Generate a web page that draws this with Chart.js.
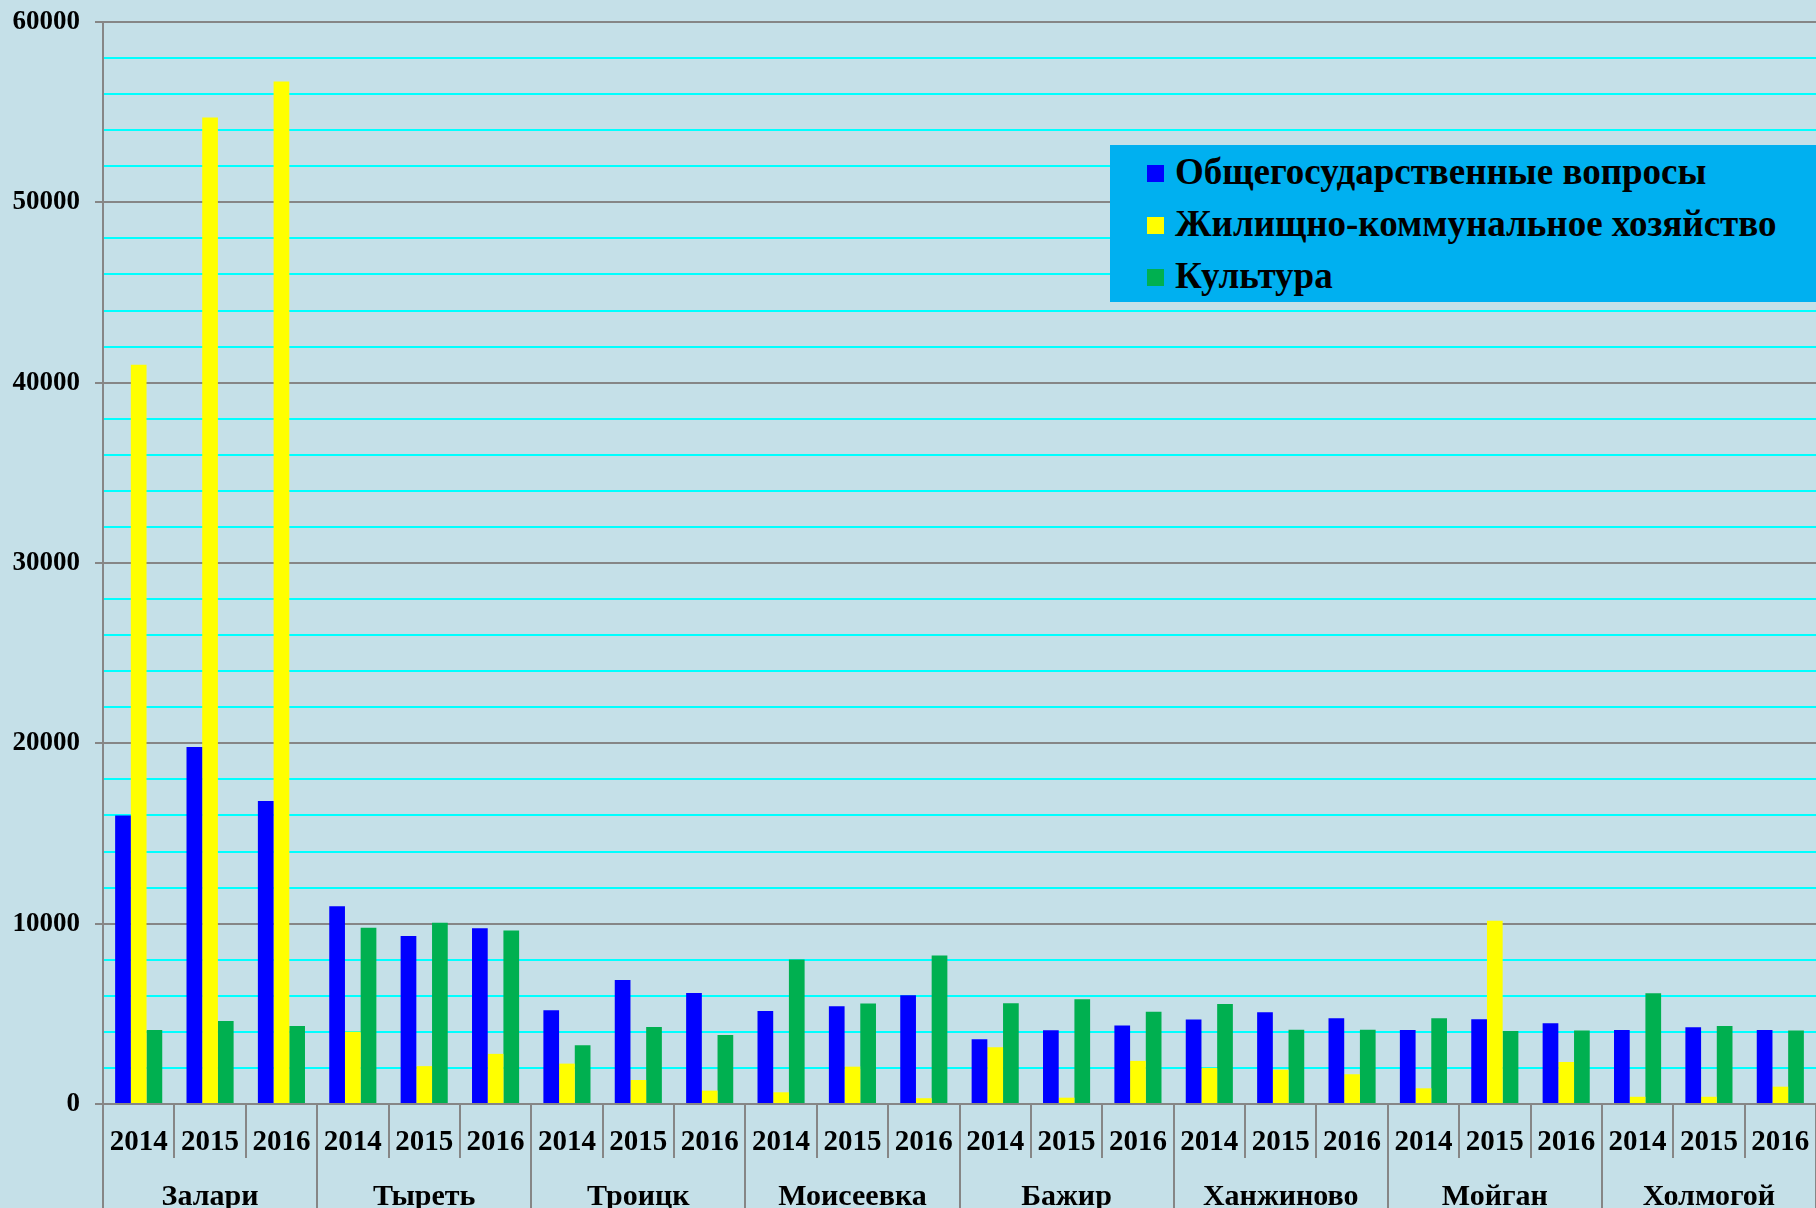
<!DOCTYPE html>
<html>
<head>
	<title>Расходы поселений 2014-2016</title>
	<script src="https://cdn.jsdelivr.net/npm/chart.js@4.4.0/dist/chart.umd.min.js"></script>
	<style>
		html, body { margin: 0; padding: 0; background: #c5e0e8; overflow: hidden; }
		#wrap { position: relative; width: 1816px; height: 1216px; }
		#legend {
			position: absolute; left: 1110px; top: 145px; width: 706px; height: 157px;
			background: #00b0f0; box-sizing: border-box; padding: 1px 0 0 37px;
			font-family: 'Liberation Serif', 'Times New Roman', serif; font-weight: bold; font-size: 37px;
		}
		#legend div { height: 52px; line-height: 52px; white-space: nowrap; }
		#legend span { display: inline-block; width: 17px; height: 17px; margin-right: 11px; vertical-align: 2px; }
	</style>
</head>
<body>
	<div id="wrap">
		<canvas id="canvas"></canvas>
		<div id="legend"></div>
	</div>
	<script type="text/javascript">
		var villages = ['Залари', 'Тыреть', 'Троицк', 'Моисеевка', 'Бажир', 'Ханжиново', 'Мойган', 'Холмогой'];
		var years = ['2014', '2015', '2016'];

		var seriesNames = ['Общегосударственные вопросы', 'Жилищно-коммунальное хозяйство', 'Культура'];
		var seriesColors = ['#0000ff', '#ffff00', '#00b050'];

		// values per village, 2014..2016
		var general = [16000, 19800, 16800,  10970, 9320, 9750,  5200, 6880, 6160,  5160, 5420, 6030,
			3590, 4090, 4350,  4680, 5090, 4760,  4100, 4700, 4480,  4100, 4260, 4100];
		var housing = [41000, 54700, 56700,  4000, 2100, 2780,  2240, 1330, 740,  650, 2070, 320,
			3150, 350, 2390,  2000, 1900, 1650,  870, 10160, 2330,  400, 400, 960];
		var culture = [4100, 4600, 4330,  9770, 10050, 9620,  3260, 4270, 3830,  8010, 5570, 8230,
			5590, 5810, 5120,  5550, 4120, 4120,  4760, 4050, 4080,  6140, 4330, 4080];

		var labels = [];
		villages.forEach(function() { years.forEach(function(y) { labels.push(y); }); });

		var gray = '#868686';
		var serif = "'Liberation Serif', 'Times New Roman', serif";

		var legend = document.getElementById('legend');
		seriesNames.forEach(function(name, i) {
			var row = document.createElement('div');
			row.innerHTML = '<span style="background:' + seriesColors[i] + '"></span>' + name;
			legend.appendChild(row);
		});

		var ctx = document.getElementById('canvas').getContext('2d');
		var chart = new Chart(ctx, {
			type: 'bar',
			data: {
				labels: labels,
				datasets: [general, housing, culture].map(function(d, i) {
					return {
						label: seriesNames[i],
						data: d,
						backgroundColor: seriesColors[i],
						borderWidth: 0,
						barPercentage: 1.0,
						categoryPercentage: 0.66
					};
				})
			},
			options: {
				responsive: true,
				maintainAspectRatio: false,
				animation: false,
				layout: { padding: { top: 22, left: 0, right: 0, bottom: 0 } },
				plugins: {
					legend: { display: false },
					tooltip: { enabled: false }
				},
				scales: {
					x: {
						type: 'category',
						offset: true,
						grid: { offset: true, drawOnChartArea: false, tickLength: 54, color: gray, lineWidth: 2 },
						border: { color: gray, width: 2 },
						ticks: { font: { family: serif, weight: 'bold', size: 29 }, color: '#000', padding: -33, maxRotation: 0, autoSkip: false },
						afterFit: function(scale) { scale.height = 54; }
					},
					x2: {
						type: 'category',
						labels: villages,
						offset: true,
						position: 'bottom',
						grid: { offset: true, drawOnChartArea: false, tickLength: 60, color: gray, lineWidth: 2 },
						border: { display: false },
						ticks: { font: { family: serif, weight: 'bold', size: 30 }, color: '#000', padding: -39, maxRotation: 0, autoSkip: false },
						afterFit: function(scale) { scale.height = 58; }
					},
					y: {
						min: 0,
						max: 60000,
						grid: {
							color: function(c) { return c.tick && c.tick.value % 10000 === 0 ? gray : '#00ffff'; },
							tickColor: function(c) { return c.tick && c.tick.value % 10000 === 0 ? gray : 'rgba(0,0,0,0)'; },
							lineWidth: 2,
							tickLength: 8
						},
						border: { color: gray, width: 2 },
						ticks: {
							stepSize: 2000,
							autoSkip: false,
							font: { family: serif, weight: 'bold', size: 27 },
							color: '#000',
							padding: 15,
							callback: function(v) { return v % 10000 === 0 ? String(v) : ''; }
						},
						afterFit: function(scale) { scale.width = 103; scale.paddingTop = 0; }
					}
				}
			}
		});
	</script>
</body>
</html>
